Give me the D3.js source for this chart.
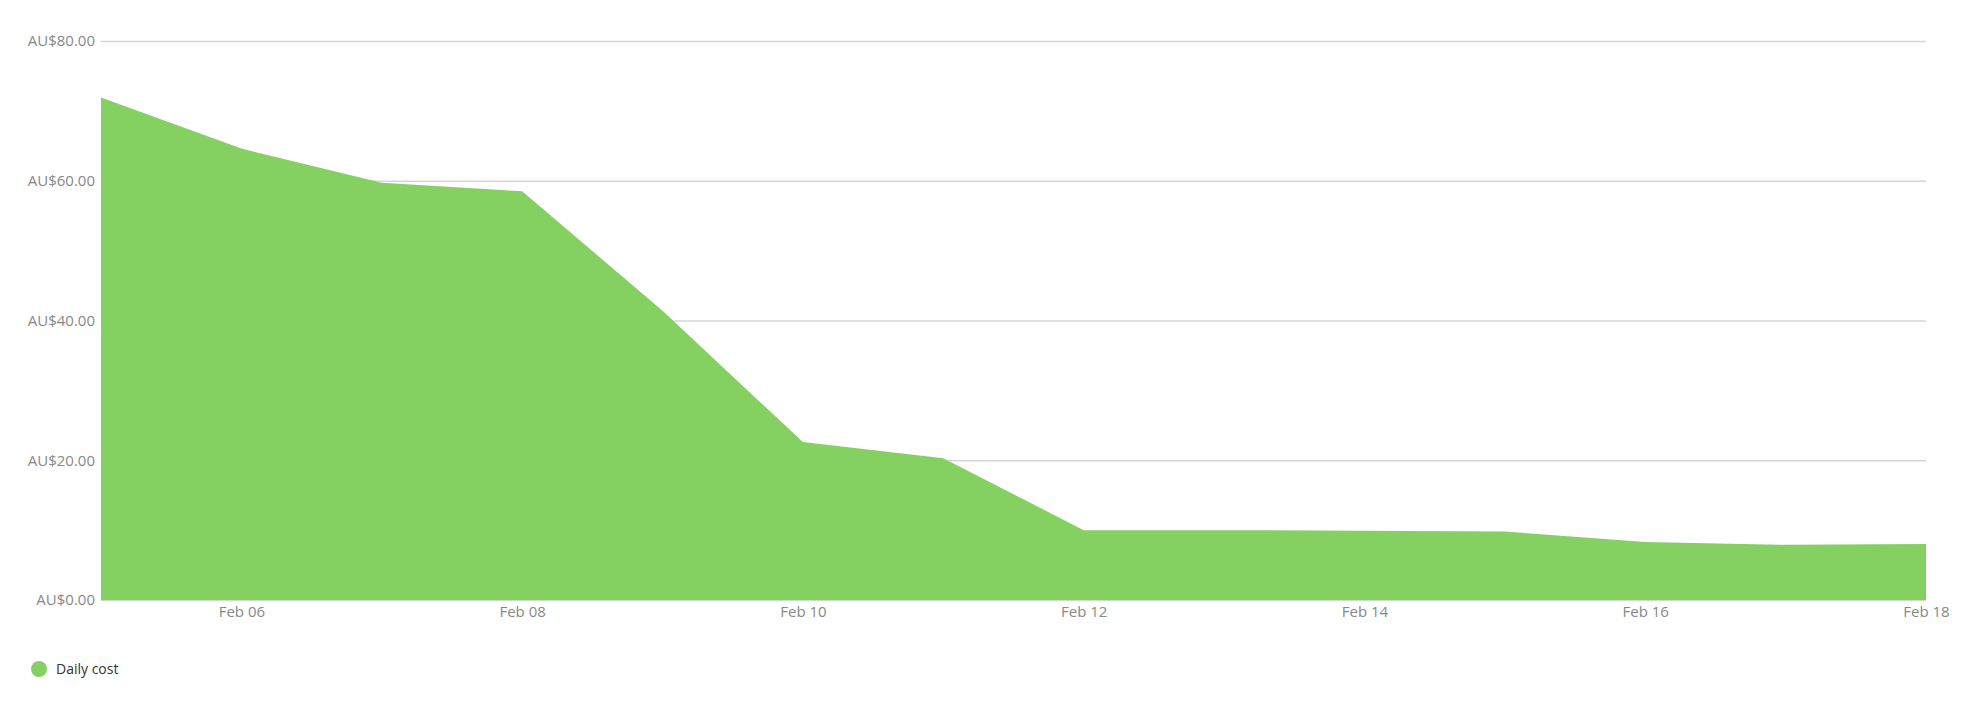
<!DOCTYPE html>
<html><head><meta charset="utf-8">
<script src="https://cdn.jsdelivr.net/npm/d3@7/dist/d3.min.js"></script>
<style>body{margin:0;background:#fff}text{font-family:"Open Sans",sans-serif}</style>
</head><body><svg id="c" width="1966" height="702"></svg>
<script>
const dates = ["2024-02-05","2024-02-06","2024-02-07","2024-02-08","2024-02-09","2024-02-10","2024-02-11","2024-02-12","2024-02-13","2024-02-14","2024-02-15","2024-02-16","2024-02-17","2024-02-18"];
const dailyCost = [71.9,64.6,59.7,58.5,41.4,22.6,20.3,10.0,10.0,9.9,9.8,8.3,7.9,8.0];
const yTicks = [0,20,40,60,80];
const xTickDates = ["2024-02-06","2024-02-08","2024-02-10","2024-02-12","2024-02-14","2024-02-16","2024-02-18"];
const seriesName = "Daily cost";

const parse = d3.timeParse("%Y-%m-%d");
const svg = d3.select("#c");
const L=101,R=1926,T=41,B=600;
const x = d3.scaleTime().domain([parse(dates[0]),parse(dates[dates.length-1])]).range([L,R]);
const y = d3.scaleLinear().domain([0,80]).range([B,T]);
const color="#84d162";

svg.append("g").selectAll("line").data(yTicks).join("line")
  .attr("x1",L).attr("x2",R).attr("y1",d=>y(d)+0.5).attr("y2",d=>y(d)+0.5)
  .attr("stroke","#d6d6d6").attr("stroke-width",1.3);
svg.append("g").selectAll("text").data(yTicks).join("text")
  .attr("x",95).attr("y",d=>y(d)).attr("dy","0.35em").attr("text-anchor","end")
  .attr("fill","#888").attr("font-size",15).text(d=>"AU$"+d.toFixed(2));

const data = dates.map((d,i)=>({d:parse(d),v:dailyCost[i]}));
svg.append("path").datum(data)
  .attr("d",d3.area().x(d=>x(d.d)).y0(y(0)).y1(d=>y(d.v)))
  .attr("fill",color);

const xa = d3.axisBottom(x).tickValues(xTickDates.map(parse)).tickFormat(d3.timeFormat("%b %d")).tickSize(0).tickPadding(6);
const gx = svg.append("g").attr("transform",`translate(0,${B})`).call(xa);
gx.select(".domain").remove();
gx.selectAll("text").attr("fill","#888").attr("font-size",15).style("font-family","Open Sans");

svg.append("circle").attr("cx",39).attr("cy",669).attr("r",8).attr("fill",color);
svg.append("text").attr("x",56).attr("y",669).attr("dy","0.35em").attr("fill","#333").attr("font-size",14).text(seriesName);
</script></body></html>
